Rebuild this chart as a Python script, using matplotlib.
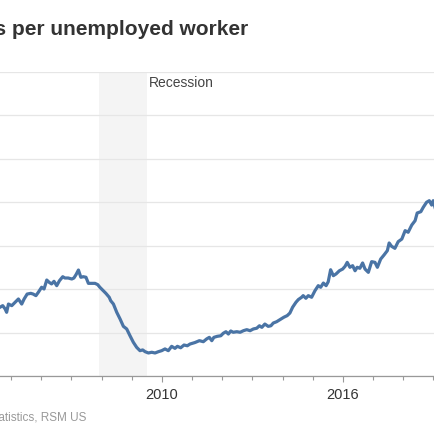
import numpy as np
import matplotlib.pyplot as plt
from matplotlib.ticker import MultipleLocator, FixedLocator

plt.rcParams['font.family'] = ['Liberation Sans', 'DejaVu Sans']

# job openings per unemployed worker (decimal year, ratio)
dates = [
    2004.63, 2004.72, 2004.80, 2004.85, 2004.91, 2005.02, 2005.13, 2005.24, 2005.35, 2005.43,
    2005.53, 2005.65, 2005.73, 2005.82, 2005.90, 2006.01, 2006.09, 2006.18, 2006.26, 2006.34,
    2006.42, 2006.51, 2006.60, 2006.71, 2006.78, 2006.89, 2007.01, 2007.08, 2007.15, 2007.23,
    2007.31, 2007.39, 2007.48, 2007.56, 2007.67, 2007.78, 2007.87, 2007.94, 2008.03, 2008.14,
    2008.25, 2008.30, 2008.39, 2008.50, 2008.61, 2008.72, 2008.83, 2008.94, 2009.05, 2009.16,
    2009.27, 2009.36, 2009.44, 2009.55, 2009.66, 2009.77, 2009.88, 2009.99, 2010.10, 2010.21,
    2010.32, 2010.43, 2010.51, 2010.62, 2010.73, 2010.84, 2010.93, 2011.09, 2011.24, 2011.37,
    2011.48, 2011.57, 2011.65, 2011.72, 2011.83, 2011.95, 2012.03, 2012.12, 2012.20, 2012.28,
    2012.36, 2012.48, 2012.59, 2012.70, 2012.81, 2012.92, 2013.03, 2013.14, 2013.23, 2013.31,
    2013.41, 2013.52, 2013.61, 2013.69, 2013.80, 2013.91, 2014.04, 2014.15, 2014.24, 2014.33,
    2014.44, 2014.52, 2014.63, 2014.68, 2014.77, 2014.85, 2014.96, 2015.07, 2015.18, 2015.26,
    2015.35, 2015.44, 2015.51, 2015.59, 2015.68, 2015.77, 2015.88, 2015.99, 2016.07, 2016.14,
    2016.23, 2016.32, 2016.40, 2016.47, 2016.56, 2016.65, 2016.73, 2016.84, 2016.95, 2017.06,
    2017.14, 2017.25, 2017.36, 2017.47, 2017.53, 2017.61, 2017.72, 2017.83, 2017.95, 2018.06,
    2018.16, 2018.28, 2018.39, 2018.46, 2018.58, 2018.66, 2018.77, 2018.86, 2018.94, 2018.99,
    2019.05,
]
ratio = [
    0.475, 0.486, 0.463, 0.440, 0.497, 0.486, 0.509, 0.532, 0.497, 0.532,
    0.566, 0.571, 0.566, 0.555, 0.578, 0.613, 0.601, 0.663, 0.647, 0.636,
    0.654, 0.624, 0.658, 0.686, 0.677, 0.677, 0.670, 0.677, 0.700, 0.732,
    0.682, 0.686, 0.682, 0.640, 0.640, 0.640, 0.631, 0.613, 0.594, 0.571,
    0.544, 0.520, 0.497, 0.440, 0.394, 0.343, 0.325, 0.278, 0.233, 0.198,
    0.175, 0.180, 0.168, 0.159, 0.164, 0.159, 0.168, 0.175, 0.187, 0.175,
    0.205, 0.191, 0.205, 0.195, 0.214, 0.209, 0.221, 0.231, 0.244, 0.237,
    0.256, 0.267, 0.244, 0.267, 0.274, 0.278, 0.295, 0.306, 0.290, 0.311,
    0.302, 0.306, 0.302, 0.313, 0.320, 0.313, 0.325, 0.330, 0.347, 0.336,
    0.359, 0.343, 0.347, 0.366, 0.375, 0.389, 0.406, 0.417, 0.435, 0.475,
    0.509, 0.528, 0.544, 0.555, 0.537, 0.555, 0.544, 0.589, 0.624, 0.613,
    0.642, 0.624, 0.651, 0.734, 0.693, 0.705, 0.727, 0.739, 0.758, 0.785,
    0.751, 0.762, 0.727, 0.751, 0.744, 0.781, 0.739, 0.716, 0.790, 0.785,
    0.751, 0.808, 0.836, 0.866, 0.919, 0.896, 0.882, 0.928, 0.946, 1.004,
    0.993, 1.043, 1.073, 1.126, 1.135, 1.165, 1.200, 1.211, 1.181, 1.211,
    1.165,
]
recession = (2007.92, 2009.50)
year_labels = [2004, 2010, 2016]

fig = plt.figure(figsize=(4.35, 4.35), dpi=100)
ax = fig.add_axes([0, 58 / 435, 1, 304 / 435])

ax.axvspan(recession[0], recession[1], color='#f4f4f4', lw=0, zorder=0)
ax.plot(dates, ratio, color='#4a74a5', lw=2.3, solid_joinstyle='round', zorder=3)

ax.set_xlim(2004.63, 2019.05)
ax.set_ylim(0, 2.1)
ax.yaxis.set_major_locator(MultipleLocator(0.3))
ax.grid(axis='y', color='#e6e6e6', lw=0.9)
ax.set_axisbelow(True)
ax.tick_params(axis='y', left=False, labelleft=False)

ax.xaxis.set_major_locator(FixedLocator(year_labels))
ax.xaxis.set_minor_locator(MultipleLocator(1))
ax.tick_params(axis='x', which='major', length=4, width=0.8, color='#999999',
               labelsize=10.5, labelcolor='#333333', pad=4)
ax.tick_params(axis='x', which='minor', length=3, width=0.8, color='#999999')

for side in ['top', 'left', 'right']:
    ax.spines[side].set_visible(False)
ax.spines['bottom'].set_color('#999999')
ax.spines['bottom'].set_linewidth(0.9)

ax.text(2009.57, 2.0, 'Recession', fontsize=10, color='#444444', ha='left', va='baseline')

fig.text(248 / 435, 1 - 35 / 435, 'Job openings per unemployed worker', fontsize=15,
         fontweight='bold', color='#333333', ha='right', va='baseline')
fig.text(86 / 435, 1 - 421 / 435, 'Source: Bureau of Labor Statistics, RSM US',
         fontsize=8.5, color='#999999', ha='right', va='baseline')

fig.savefig('out.png', dpi=100)
